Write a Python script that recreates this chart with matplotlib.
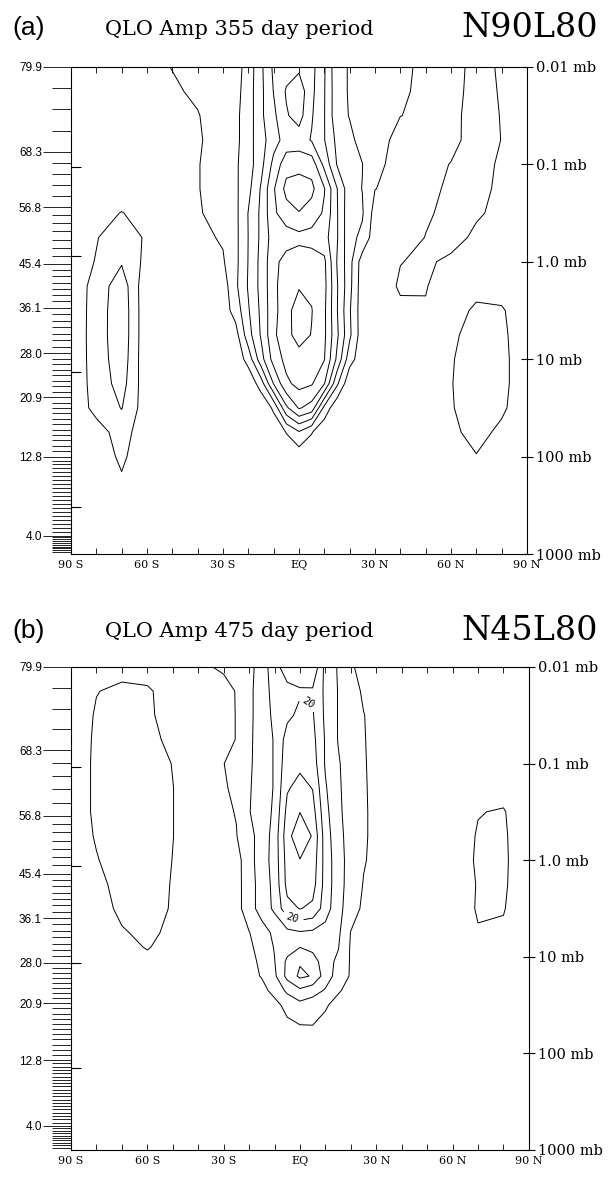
import numpy as np
import matplotlib
matplotlib.use("Agg")
import matplotlib.pyplot as plt

# latitude grid (deg, S negative) and vertical coordinate z = log10(1000/p)
LAT = [-90, -80, -70, -60, -50, -40, -30, -25, -20, -15, -10, -5, 0,
       5, 10, 15, 20, 25, 30, 40, 50, 60, 70, 80, 90]

# panel (a): QLO amplitude, 355 day period, N90L80 (rows from top to bottom)
Z_A = [5.0, 4.75, 4.5, 4.25, 4.0, 3.75, 3.5, 3.25, 3.0, 2.75, 2.5, 2.25,
       2.0, 1.75, 1.5, 1.25, 1.0, 0.75, 0.5, 0.0]
AMP_A = [
    [3, 3, 3.5, 4, 5.1, 6, 7, 8, 12, 18.9, 26, 28, 29, 26.6, 20.5, 11.3, 9.7, 8, 7, 5.5, 4.5, 4, 5.8, 4.7, 3],
    [3, 3, 3.5, 4, 4.5, 5.6, 6.8, 8.3, 12.5, 18.75, 25.2, 30.5, 33, 26.25, 20.3, 11.7, 9.6, 7.8, 6.8, 5.4, 4.4, 4.1, 5.9, 4.8, 3],
    [3, 3, 3.5, 4, 4.3, 4.8, 7, 9, 12.3, 19, 23.9, 29.5, 32, 25.5, 20.2, 11.7, 9.8, 8, 7, 5.05, 4.4, 4.3, 6, 4.9, 3],
    [3, 3, 3.5, 4, 4.2, 4.5, 7, 8.7, 13, 18, 23, 27, 27.5, 24.6, 20.2, 13.75, 11, 8.5, 7, 3.5, 3.8, 4.2, 6.2, 4.95, 3],
    [3, 3, 3.5, 4, 4.2, 4.8, 7, 9.3, 12.7, 18.4, 26.5, 33, 33, 33, 23.5, 14.75, 12, 10.1, 6, 3.5, 4, 5.1, 6.3, 4.5, 3],
    [3, 3, 3.5, 4, 4.3, 4.8, 7, 9.1, 13.6, 20.5, 29.5, 36.5, 38, 36.2, 30.3, 20.2, 11.7, 9.9, 5.1, 3.5, 4.2, 5.5, 6.2, 4.2, 3],
    [3, 4, 5.1, 4, 4, 4.5, 7, 8.75, 15.2, 21, 29, 33, 34.8, 33, 29.25, 20.5, 11.3, 10.5, 3, 3, 4.5, 6, 5.5, 4, 3],
    [3, 4.8, 7, 4.5, 3.5, 3.8, 5.5, 8.7, 15.1, 21, 27.5, 27.5, 28.5, 28, 27, 20.5, 11.3, 9, 2, 3, 5.1, 6.5, 4.2, 3.5, 3],
    [3, 5.2, 9.5, 3.5, 3, 3, 4.5, 8.7, 15.2, 21.5, 28.5, 32, 33, 32.5, 31, 19.8, 11.7, 2.5, 2.5, 4.9, 5.6, 4.2, 3.5, 3, 3],
    [1.5, 7, 13, 1, 2, 2.5, 2.5, 9, 15.5, 21.5, 28.5, 33.5, 34.5, 34, 31.5, 20.5, 11.5, 2, 2.5, 5.5, 5.2, 3, 3.5, 3, 3],
    [1.5, 7.2, 13.5, 1, 2, 2.5, 2.5, 7, 14.5, 21, 28.5, 33, 38, 35.2, 31, 20.3, 10.5, 2, 2.5, 4.2, 4.7, 3, 5.8, 5.5, 2],
    [1.5, 7.3, 13.5, 1, 2, 2.5, 2.5, 3, 13, 20.5, 29, 33.5, 37, 34.8, 31, 21, 11, 2, 2.5, 2.5, 3, 4, 7, 6, 2],
    [1.5, 7.2, 13, 1, 2, 2.5, 2, 1.5, 7, 18, 27, 31.5, 33, 32.5, 30.2, 19, 7, 2, 2, 2.5, 3.5, 4.6, 7.5, 6.3, 2],
    [1.5, 7, 12, 1.5, 2, 2, 1.5, 1, 1, 7.5, 20.3, 29, 31.5, 30.5, 25.3, 11, 1, 1, 1.5, 2, 3.5, 4.8, 7.5, 6.3, 2],
    [1.5, 6.5, 10.2, 2, 2, 2, 1.5, 1, 1, 0.5, 6, 19, 25.5, 23, 8.5, 1, 1, 1, 1.5, 2, 3.5, 4.7, 7, 5.8, 2],
    [1.5, 3, 7, 2, 2, 2, 1.5, 1, 1, 1, 1, 5.2, 9.5, 5.3, 1, 1, 1, 1, 1.5, 2, 3, 4, 6.5, 4, 2],
    [1.5, 2.5, 5.8, 2, 2, 2, 1.5, 1, 1, 1, 1, 1.5, 2, 1.5, 1, 1, 1, 1, 1.5, 2, 2.5, 3, 4.8, 3, 2],
    [1.5, 2.5, 4.5, 2, 2, 2, 1.5, 1, 1, 1, 1, 1, 1, 1, 1, 1, 1, 1, 1.5, 2, 2.5, 2.5, 3, 2.5, 2],
    [1.5, 2, 2.5, 2, 2, 2, 1.5, 1, 1, 1, 1, 1, 1, 1, 1, 1, 1, 1, 1.5, 2, 2, 2, 2, 2, 2],
    [1, 1.5, 1.5, 1.5, 1.5, 1.5, 1, 1, 1, 1, 1, 1, 1, 1, 1, 1, 1, 1, 1, 1.5, 1.5, 1.5, 1.5, 1.5, 1],
]

# panel (b): QLO amplitude, 475 day period, N45L80
Z_B = [5.0, 4.75, 4.5, 4.25, 4.0, 3.75, 3.5, 3.25, 3.0, 2.75, 2.5, 2.25,
       2.1, 1.95, 1.8, 1.65, 1.5, 1.25, 1.0, 0.75, 0.5, 0.0]
AMP_B = [
    [3, 3.5, 4, 4, 4, 4.6, 5.3, 6, 9, 11.5, 18.8, 21.7, 23, 24.5, 13.3, 9.6, 5.2, 4.5, 4, 4, 4, 4, 4, 3.5, 3],
    [3, 4.9, 5.6, 5.3, 4, 3.8, 4.3, 5.1, 9.3, 11.5, 17.5, 19, 19.5, 19.3, 14, 9.8, 6.5, 4.5, 4, 4, 4, 4, 4, 3.5, 3],
    [3, 5.3, 6, 5.5, 3.8, 3.8, 4, 5.1, 9.3, 11.5, 16.5, 19, 21, 20.5, 14, 9.8, 7, 5.1, 4, 4, 4, 4, 4, 3.5, 3],
    [3, 5.5, 6.3, 6.2, 4, 3.5, 3, 5.2, 9.4, 11.5, 15.5, 22, 23, 21.5, 14.5, 9.8, 7, 5.2, 4, 4, 4, 4, 4, 3.5, 3],
    [3, 5.6, 6.5, 6.5, 4.9, 3.5, 4.9, 7, 9.5, 11.5, 15.5, 23, 24, 22.5, 14.5, 10.5, 7.5, 5.3, 4, 4, 4, 4, 4, 3.5, 3],
    [3, 5.6, 6.6, 6.5, 5.05, 3.5, 4.5, 6, 9.7, 11.5, 15.5, 24.5, 26.5, 24.8, 15.5, 10.8, 7.5, 5.4, 4, 4, 4, 4, 4.3, 4, 3],
    [3, 5.6, 6.6, 6.5, 5.05, 3.5, 4.2, 5.2, 9.8, 12, 16, 26.5, 29.9, 27, 16.5, 11, 7.8, 5.5, 4, 4, 4, 3.5, 4.9, 5.2, 3],
    [3, 5.3, 6.6, 6.5, 5.05, 3.5, 4, 4.8, 8.5, 12, 17, 28, 34, 29.5, 17.5, 11.5, 8, 5.5, 4, 4, 4, 3.5, 5.2, 5.5, 2.5],
    [3, 4.8, 6.6, 6.5, 4.95, 3.5, 3.5, 3, 8.2, 12.5, 17, 27, 29.8, 28, 18, 12, 8, 5.3, 4, 4, 4, 3.2, 5.4, 5.6, 2.5],
    [3, 3.8, 6.5, 6.5, 4.8, 3.5, 3.5, 3, 8, 12, 16.5, 26.5, 28, 27, 18, 12, 7.8, 4.8, 3.5, 3.5, 3.5, 3, 5.2, 5.5, 2.5],
    [2.5, 3, 6, 6.4, 4.7, 3.5, 3.5, 3, 8, 12, 16, 23.5, 25.2, 24, 17.5, 11.5, 7.5, 4, 3.5, 3.5, 3.5, 3, 5.3, 5.2, 2.5],
    [2.5, 2.8, 4.6, 6, 4, 3.5, 3.5, 3, 4.8, 8, 11, 13.5, 14.5, 14, 13, 11, 4.8, 3, 3, 3.5, 3.5, 3, 4.8, 4.5, 2.5],
    [2.5, 2.8, 4, 5.2, 3.8, 3.5, 3.5, 3, 4, 7, 10.3, 13, 14.9, 13.5, 12.5, 10.3, 4.5, 3, 3, 3.5, 3.5, 3, 4.2, 4, 2.5],
    [2.5, 2.6, 3.5, 4.2, 3.5, 3.5, 3.5, 3, 3.5, 6, 9.8, 16, 19.5, 17.5, 12, 9, 4.5, 3, 3, 3, 3, 3, 3.5, 3.5, 2.5],
    [2.5, 2.5, 3.5, 4, 3.5, 3.5, 3.5, 3, 3.5, 5.3, 9, 16.5, 21, 19.6, 12.5, 8, 4.5, 3, 3, 3, 3, 3, 3, 3, 2.5],
    [2.5, 2.5, 3, 3.5, 3.5, 3.5, 3.5, 3, 3, 3.5, 6.5, 11, 14, 12, 9.5, 5.5, 3.5, 3, 3, 3, 3, 3, 3, 3, 2.5],
    [2.5, 2.5, 3, 3, 3, 3, 3, 3, 3, 3, 3.5, 6.5, 8.5, 7.5, 5.5, 3.5, 3, 3, 3, 3, 3, 3, 3, 3, 2.5],
    [2.5, 2.5, 3, 3, 3, 3, 3, 3, 3, 3, 3, 3.5, 4.2, 4.5, 3.5, 3, 3, 3, 3, 3, 3, 3, 3, 3, 2.5],
    [2.5, 2.5, 3, 3, 3, 3, 3, 3, 3, 3, 3, 3, 3, 3, 3, 3, 3, 3, 3, 3, 3, 3, 3, 3, 2.5],
    [2.5, 2.5, 3, 3, 3, 3, 3, 3, 3, 3, 3, 3, 3, 3, 3, 3, 3, 3, 3, 3, 3, 3, 3, 3, 2.5],
    [2.5, 2.5, 2.5, 2.5, 2.5, 2.5, 2.5, 2.5, 2.5, 2.5, 2.5, 2.5, 2.5, 2.5, 2.5, 2.5, 2.5, 2.5, 2.5, 2.5, 2.5, 2.5, 2.5, 2.5, 2.5],
    [2, 2, 2, 2, 2, 2, 2, 2, 2, 2, 2, 2, 2, 2, 2, 2, 2, 2, 2, 2, 2, 2, 2, 2, 2],
]

LEVELS_A = [5, 10, 15, 20, 25, 30, 35]
LEVELS_B = [5, 10, 15, 20, 25, 30]
LABELED_B = 20

LAT_TICKS = [-90, -60, -30, 0, 30, 60, 90]
LAT_LABELS = ["90 S", "60 S", "30 S", "EQ", "30 N", "60 N", "90 N"]
P_LABELS = ["1000 mb", "100 mb", "10 mb", "1.0 mb", "0.1 mb", "0.01 mb"]
HGT_LABELS = ["79.9", "68.3", "56.8", "45.4", "36.1", "28.0", "20.9", "12.8", "4.0"]
HGT_POS_A = [5.0, 4.13, 3.56, 2.98, 2.53, 2.06, 1.61, 1.0, 0.19]
HGT_POS_B = [5.0, 4.14, 3.46, 2.86, 2.40, 1.94, 1.52, 0.93, 0.25]
LEVELS_PER_GAP = [4, 5, 7, 7, 7, 8, 11, 20, 10]
INNER_A = [3.97, 3.06, 1.87, 0.48]
INNER_B = [3.96, 2.94, 1.94, 0.85]

SERIF = "DejaVu Serif"
SANS = "Liberation Sans"


def niveis_modelo(hgt_pos):
    # model level ticks between the labelled heights
    limites = list(hgt_pos) + [0.0]
    pos = []
    for i, n in enumerate(LEVELS_PER_GAP):
        pos.extend(np.linspace(limites[i], limites[i + 1], n + 1)[1:-1])
    return pos


def painel(fig, rect, z, amp, levels, hgt_pos, inner, rotulado=None, rotulos=None):
    ax = fig.add_axes(rect)
    zz = np.array(z)[::-1]
    aa = np.array(amp)[::-1]
    outros = [lv for lv in levels if lv != rotulado]
    ax.contour(LAT, zz, aa, levels=outros, colors="k", linewidths=0.7)
    if rotulado is not None:
        cs = ax.contour(LAT, zz, aa, levels=[rotulado], colors="k", linewidths=0.7)
        txts = ax.clabel(cs, fmt="%d", fontsize=7.5, inline=True, manual=rotulos)
        for t in txts:
            t.set_family("DejaVu Sans Mono")

    ax.set_xlim(-90, 90)
    ax.set_ylim(0, 5)
    for s in ax.spines.values():
        s.set_linewidth(0.8)

    ax.set_xticks(LAT_TICKS)
    ax.set_xticklabels(LAT_LABELS, family=SERIF, fontsize=8)
    ax.set_xticks(range(-90, 91, 10), minor=True)
    ax.tick_params(axis="x", which="both", direction="in", top=True,
                   length=4, width=0.6, pad=4)

    ax.set_yticks(hgt_pos)
    ax.set_yticklabels(HGT_LABELS, family=SANS, fontsize=8.5)
    ax.set_yticks(niveis_modelo(hgt_pos), minor=True)
    ax.tick_params(axis="y", which="major", direction="out", length=20,
                   width=0.6, pad=1)
    ax.tick_params(axis="y", which="minor", direction="out", length=14,
                   width=0.6)

    ax2 = ax.twinx()
    ax2.set_ylim(0, 5)
    ax2.set_yticks(range(6))
    ax2.set_yticklabels(P_LABELS, family=SERIF, fontsize=10.5)
    ax2.tick_params(axis="y", direction="inout", length=9, width=0.8, pad=2)
    for s in ax2.spines.values():
        s.set_visible(False)

    ax3 = ax.twinx()
    ax3.set_ylim(0, 5)
    ax3.yaxis.tick_left()
    ax3.set_yticks(inner)
    ax3.set_yticklabels([])
    ax3.tick_params(axis="y", direction="in", length=7, width=0.8)
    for s in ax3.spines.values():
        s.set_visible(False)
    return ax


fig = plt.figure(figsize=(6.13, 11.79), dpi=100)

painel(fig, [0.1158, 0.5301, 0.7439, 0.4131], Z_A, AMP_A, LEVELS_A,
       HGT_POS_A, INNER_A)
painel(fig, [0.1158, 0.0246, 0.7470, 0.4097], Z_B, AMP_B, LEVELS_B,
       HGT_POS_B, INNER_B, rotulado=LABELED_B, rotulos=[(2, 4.55), (-3, 2.4)])

for y, letra, titulo, modelo in [(0.976, "(a)", "QLO Amp 355 day period", "N90L80"),
                                 (0.465, "(b)", "QLO Amp 475 day period", "N45L80")]:
    fig.text(12 / 613, y, letra, family=SANS, fontsize=19, va="center")
    fig.text(105 / 613, y - 0.001, titulo, family=SERIF, fontsize=15, va="center")
    fig.text(598 / 613, y, modelo, family=SERIF, fontsize=24, va="center", ha="right")

fig.savefig("out.png", dpi=100)
